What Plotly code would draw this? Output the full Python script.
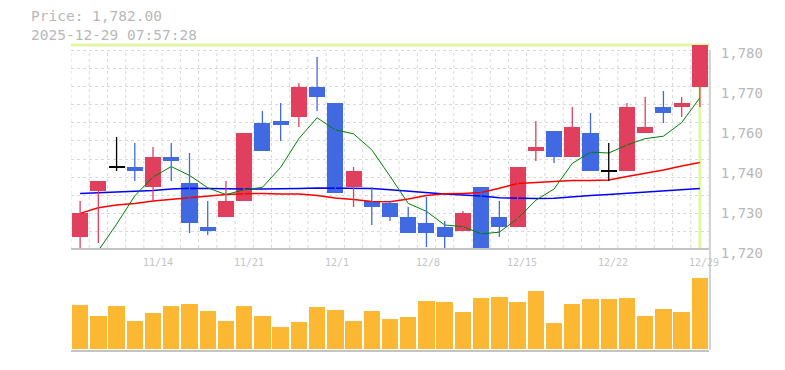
import plotly.graph_objects as go

# ---------------- data ----------------
dates = ["11/10", "11/11", "11/12", "11/13", "11/14", "11/17", "11/18", "11/19", "11/20", "11/21",
         "11/25", "11/26", "11/27", "11/28", "12/1", "12/2", "12/3", "12/4", "12/5", "12/8",
         "12/9", "12/10", "12/11", "12/12", "12/15", "12/16", "12/17", "12/18", "12/19", "12/22",
         "12/23", "12/24", "12/25", "12/26", "12/29"]

opens = [1734, 1745.5, 1751.5, 1751.5, 1746.5, 1754, 1747.5, 1736.5, 1739, 1743,
         1762.5, 1763, 1764, 1771.5, 1767.5, 1746.5, 1743, 1742.5, 1739, 1737.5,
         1736.5, 1735.5, 1746.5, 1739, 1736.5, 1755.5, 1760.5, 1754, 1760, 1750.5,
         1750.5, 1760, 1766.5, 1766.5, 1771.5]
highs = [1743, 1748, 1759, 1757.5, 1756.5, 1757.5, 1755, 1743, 1748, 1760,
         1765.5, 1767.5, 1772.5, 1779, 1767.5, 1751.5, 1746.5, 1743, 1741.5, 1744,
         1738, 1740.5, 1746.5, 1743, 1751.5, 1763, 1760.5, 1766.5, 1765, 1757.5,
         1767.5, 1769, 1770.5, 1769, 1782]
lows = [1730, 1732.5, 1750.5, 1748, 1743, 1748, 1735, 1734.5, 1739, 1743,
        1755.5, 1758, 1761.5, 1765.5, 1745, 1741.5, 1737, 1738, 1735, 1731.5,
        1730.5, 1735.5, 1730.5, 1734, 1736.5, 1753, 1752.5, 1754, 1750.5, 1748,
        1750.5, 1760, 1762.5, 1764, 1766.5]
closes = [1740, 1748, 1751.5, 1750.5, 1754, 1753, 1737.5, 1735.5, 1743, 1760,
          1755.5, 1762, 1771.5, 1769, 1745, 1750.5, 1741.5, 1739, 1735, 1735,
          1734, 1740, 1730.5, 1736.5, 1751.5, 1756.5, 1754, 1761.5, 1750.5, 1750.5,
          1766.5, 1761.5, 1765, 1767.5, 1782]

ma_short = [None, 1730.6, 1737.2, 1744.3, 1749.0, 1751.6, 1749.4, 1746.3, 1744.6, 1745.8,
            1746.4, 1751.4, 1758.6, 1763.8, 1760.8, 1759.8, 1755.8, 1749.2, 1742.4, 1740.4,
            1737.0, 1736.6, 1734.8, 1735.2, 1738.6, 1743.2, 1746.0, 1752.4, 1755.2, 1755.0,
            1757.0, 1758.6, 1759.2, 1762.6, 1768.8]
ma_mid = [1739.9, 1741.3, 1742.0, 1742.4, 1743.0, 1743.4, 1743.9, 1744.3, 1744.6, 1744.8,
          1744.9, 1744.75, 1744.75, 1744.4, 1743.75, 1743.4, 1742.9, 1742.8, 1743.5, 1744.4,
          1744.8, 1744.9, 1745.1, 1746.2, 1747.4, 1747.6, 1747.85, 1748.1, 1748.1, 1748.25,
          1749.1, 1749.9, 1750.75, 1751.75, 1752.6]
ma_long = [1744.9, 1745.1, 1745.3, 1745.4, 1745.6, 1746.0, 1746.2, 1746.1, 1746.0, 1746.0,
           1746.0, 1746.0, 1746.1, 1746.25, 1746.25, 1746.2, 1746.1, 1745.8, 1745.4, 1745.1,
           1744.75, 1744.5, 1744.25, 1743.8, 1743.7, 1743.6, 1743.7, 1744.1, 1744.4, 1744.6,
           1744.9, 1745.2, 1745.5, 1745.9, 1746.1]

volumes = [440, 330, 430, 280, 360, 430, 450, 380, 280, 430,
           330, 220, 270, 420, 390, 280, 380, 300, 320, 480,
           470, 370, 510, 520, 470, 580, 260, 450, 500, 500,
           510, 330, 400, 370, 710]

tick_vals = [1780, 1770, 1760, 1750, 1740, 1730]
tick_text = ["1,780", "1,770", "1,760", "1,740", "1,730", "1,720"]
label_dates = ["11/14", "11/21", "12/1", "12/8", "12/15", "12/22", "12/29"]
header_lines = ["Price: 1,782.00", "2025-12-29 07:57:28"]

# ---------------- styles ----------------
W, H = 785, 370
ML, MR, MT, MB = 71, 76, 41, 20
PW, PH = W - ML - MR, H - MT - MB
RED, BLUE, BLACK = "#e0405e", "#4169e1", "#000000"
VOL = "#fdb833"
GRID = "#d9d9d9"
AXIS = "#c4c4c4"
TXT = "#b8b8b8"
MONO = "DejaVu Sans Mono"

def py(p):  # pixel row -> paper y
    return (H - MB - p) / PH

def px(p):  # pixel column -> paper x
    return (p - ML) / PW

idx = list(range(len(dates)))
fig = go.Figure()

# moving averages (below candles)
fig.add_trace(go.Scatter(x=idx, y=ma_long, mode="lines", line=dict(color="#0000ff", width=1.5),
                         xaxis="x", yaxis="y", hoverinfo="skip"))
fig.add_trace(go.Scatter(x=idx, y=ma_mid, mode="lines", line=dict(color="#ff0000", width=1.5),
                         xaxis="x", yaxis="y", hoverinfo="skip"))
fig.add_trace(go.Scatter(x=idx, y=ma_short, mode="lines", line=dict(color="#008000", width=1),
                         xaxis="x", yaxis="y", hoverinfo="skip"))

# candles
groups = {RED: [], BLUE: [], BLACK: []}
for i, (o, h, l, c) in enumerate(zip(opens, highs, lows, closes)):
    col = RED if c > o else (BLUE if c < o else BLACK)
    groups[col].append(i)

for col, ids in groups.items():
    wx, wy = [], []
    for i in ids:
        wx += [i, i, None]
        wy += [lows[i], highs[i], None]
    fig.add_trace(go.Scatter(x=wx, y=wy, mode="lines", line=dict(color=col, width=1.3),
                             xaxis="x", yaxis="y", hoverinfo="skip"))
    base = [min(opens[i], closes[i]) for i in ids]
    hgt = [abs(closes[i] - opens[i]) if col != BLACK else 0.35 for i in ids]
    if col == BLACK:
        base = [opens[i] - 0.17 for i in ids]
    fig.add_trace(go.Bar(x=ids, y=hgt, base=base, width=0.88, marker=dict(color=col, line=dict(width=0)),
                         xaxis="x", yaxis="y", hoverinfo="skip"))

# volume
fig.add_trace(go.Bar(x=idx, y=volumes, width=0.9, marker=dict(color=VOL, line=dict(width=0)),
                     xaxis="x2", yaxis="y2", hoverinfo="skip"))

shapes = []
# vertical dashed grid at slot boundaries
for k in range(len(dates) + 1):
    shapes.append(dict(type="line", xref="x", yref="paper", x0=k - 0.5, x1=k - 0.5,
                       y0=py(350), y1=py(50), line=dict(color=GRID, width=1, dash="3px,3px"),
                       layer="below"))
# crosshair at last price
last = len(dates) - 1
shapes.append(dict(type="line", xref="paper", yref="y", x0=0, x1=px(710), y0=closes[last], y1=closes[last],
                   line=dict(color="#e2f5a2", width=3), layer="below"))
shapes.append(dict(type="line", xref="x", yref="y", x0=last, x1=last, y0=1730.9, y1=closes[last],
                   line=dict(color="#e2f5a2", width=3), layer="below"))
# right axis line
shapes.append(dict(type="line", xref="paper", yref="paper", x0=px(710), x1=px(710), y0=py(350), y1=py(50),
                   line=dict(color=AXIS, width=1.5)))

annotations = []
for t in label_dates:
    annotations.append(dict(text=t, x=dates.index(t), xref="x2", y=1, yref="y2 domain",
                            xanchor="left", yanchor="middle", xshift=-11.5, yshift=-12.5,
                            borderpad=0, showarrow=False,
                            font=dict(family=MONO, size=10, color="#c4c4c4")))
annotations.append(dict(text="<br>".join(header_lines), x=px(29), xref="paper", y=py(25.5), yref="paper",
                        xanchor="left", yanchor="middle", align="left", showarrow=False,
                        font=dict(family=MONO, size=14.5, color=TXT)))

fig.update_layout(
    width=W, height=H, margin=dict(l=ML, r=MR, t=MT, b=MB),
    paper_bgcolor="white", plot_bgcolor="white", showlegend=False, bargap=0,
    barmode="overlay",
    xaxis=dict(domain=[0, 1], range=[-0.5, len(dates) - 0.5], showgrid=False, zeroline=False,
               showticklabels=False, showline=False, fixedrange=True),
    yaxis=dict(domain=[py(253), 1], range=[1730, 1783], side="right", showgrid=False, zeroline=False,
               tickvals=tick_vals, ticktext=tick_text, ticks="outside", ticklen=8,
               tickcolor="rgba(0,0,0,0)",
               tickfont=dict(family=MONO, size=14, color=TXT),
               minor=dict(showgrid=True, tick0=1730.75, dtick=50 / 11, gridcolor=GRID,
                          griddash="3px,3px", gridwidth=1, ticks="")),
    xaxis2=dict(domain=[0, 1], range=[-0.5, len(dates) - 0.5], anchor="y2", showgrid=False,
                zeroline=False, showticklabels=False, showline=True, mirror=True,
                linecolor=AXIS, linewidth=1.5),
    yaxis2=dict(domain=[0, py(250)], range=[-15, 985], showgrid=False, zeroline=False,
                showticklabels=False, showline=False),
    shapes=shapes, annotations=annotations,
)

fig.write_html("out.html", post_script="document.body.style.margin='0';",
               config={"displayModeBar": False})
